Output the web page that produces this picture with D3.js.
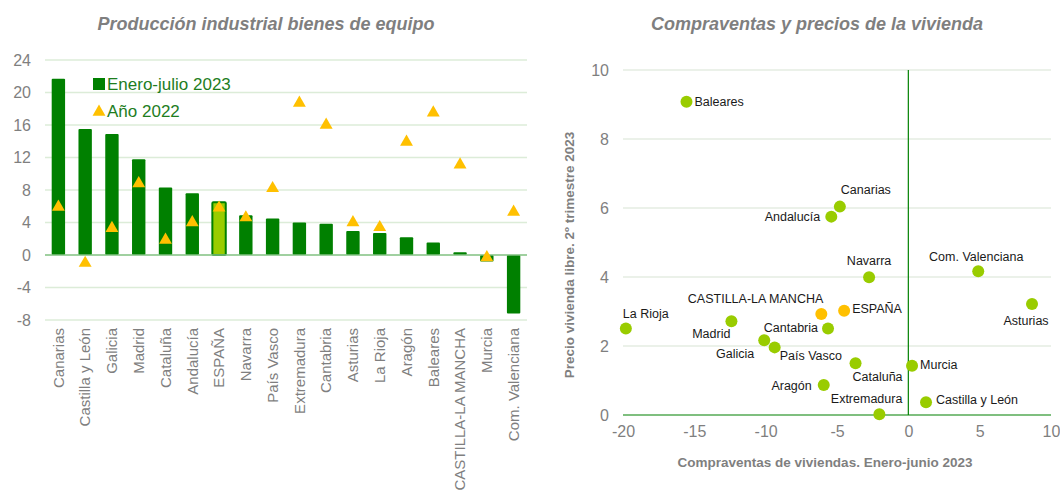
<!DOCTYPE html>
<html>
<head>
<meta charset="utf-8">
<script src="https://cdn.jsdelivr.net/npm/d3@7"></script>
<style>
  body { margin: 0; background: #fff; }
  svg { font-family: "Liberation Sans", Arial, sans-serif; }
  .title { font-size: 18px; font-weight: bold; font-style: italic; fill: #7f7f7f; }
  .tick text { fill: #7f7f7f; }
  .ptlabel { font-size: 12.5px; fill: #1a1a1a; }
  .axtitle { font-size: 13.5px; font-weight: bold; fill: #7f7f7f; }
</style>
</head>
<body>
<div id="chart"></div>
<script>
// left chart data: industrial production of capital goods
var regiones = ["Canarias", "Castilla y León", "Galicia", "Madrid", "Cataluña", "Andalucía",
  "ESPAÑA", "Navarra", "País Vasco", "Extremadura", "Cantabria", "Asturias", "La Rioja",
  "Aragón", "Baleares", "CASTILLA-LA MANCHA", "Murcia", "Com. Valenciana"];
var enero_julio_2023 = [21.7, 15.5, 14.9, 11.8, 8.3, 7.6, 6.5, 4.9, 4.5, 4.0, 3.85, 2.95, 2.7,
  2.2, 1.55, 0.35, -0.8, -7.2];
var anio_2022 = [5.9, -1.0, 3.3, 8.8, 1.85, 4.0, 5.8, 4.6, 8.2, 18.7, 16.0, 4.0, 3.4,
  13.9, 17.5, 11.1, -0.3, 5.3];
var yTicksLeft = [-8, -4, 0, 4, 8, 12, 16, 20, 24];

// right chart data: home sales (x) vs free housing price (y)
var puntos = ["Baleares", "Canarias", "Andalucía", "Navarra", "Com. Valenciana", "Asturias",
  "La Rioja", "CASTILLA-LA MANCHA", "ESPAÑA", "Madrid", "Cantabria", "Galicia", "País Vasco",
  "Cataluña", "Aragón", "Extremadura", "Murcia", "Castilla y León"];
var compraventas = [-15.55, -4.8, -5.4, -2.75, 4.9, 8.67, -19.8, -6.1, -4.5, -12.4, -5.63,
  -10.1, -9.37, -3.7, -5.93, -2.03, 0.26, 1.24];
var precios = [9.08, 6.04, 5.75, 3.99, 4.17, 3.22, 2.51, 2.93, 3.02, 2.72, 2.51,
  2.17, 1.96, 1.5, 0.87, 0.02, 1.43, 0.37];
var xTicksRight = [-20, -15, -10, -5, 0, 5, 10];
var yTicksRight = [0, 2, 4, 6, 8, 10];

// where each label sits relative to its point [dx, dy, anchor]
var labelPos = {
  "Baleares": [8, 4, "start"],
  "Canarias": [1, -13, "start"],
  "Andalucía": [-11, 4, "end"],
  "Navarra": [0, -12, "middle"],
  "Com. Valenciana": [-2, -10, "middle"],
  "Asturias": [-6, 21, "middle"],
  "La Rioja": [-3, -10, "start"],
  "CASTILLA-LA MANCHA": [2, -11, "end"],
  "ESPAÑA": [8, 2, "start"],
  "Madrid": [-1, 17, "end"],
  "Cantabria": [-10, 4, "end"],
  "Galicia": [-10, 18, "end"],
  "País Vasco": [5, 13, "start"],
  "Cataluña": [-3, 18, "start"],
  "Aragón": [-12, 5, "end"],
  "Extremadura": [23, -11, "end"],
  "Murcia": [8, 3, "start"],
  "Castilla y León": [10, 2, "start"]
};

// plain hyphen for negatives, like the original
var plain = function(d) { return String(d); };

var svg = d3.select("#chart").append("svg")
    .attr("width", 1060)
    .attr("height", 495);

// ---------- left chart ----------
var x = d3.scaleBand()
    .domain(regiones)
    .range([45, 527])
    .paddingInner(0.5)
    .paddingOuter(0.25);
var y = d3.scaleLinear().domain([-8, 24]).range([320, 60]);

svg.append("text")
    .attr("class", "title")
    .attr("x", 266).attr("y", 30)
    .attr("text-anchor", "middle")
    .text("Producción industrial bienes de equipo");

// gridlines
svg.append("g").selectAll("line")
    .data(yTicksLeft.filter(function(d) { return d !== 0; }))
  .enter().append("line")
    .attr("x1", 45).attr("x2", 527)
    .attr("y1", function(d) { return y(d); })
    .attr("y2", function(d) { return y(d); })
    .attr("stroke", "#dcecd8")
    .attr("stroke-width", 1.3);

// y axis
var yAxisL = svg.append("g")
    .attr("transform", "translate(45,0)")
    .call(d3.axisLeft(y).tickValues(yTicksLeft).tickFormat(plain).tickSize(0).tickPadding(14));
yAxisL.select(".domain").remove();
yAxisL.selectAll("text").style("font-size", "16px");

// bars
svg.append("g").selectAll("rect")
    .data(enero_julio_2023)
  .enter().append("rect")
    .attr("x", function(d, i) { return x(regiones[i]); })
    .attr("width", x.bandwidth())
    .attr("y", function(d) { return y(Math.max(0, d)); })
    .attr("height", function(d) { return Math.abs(y(d) - y(0)); })
    .attr("rx", 1)
    .attr("fill", function(d, i) { return regiones[i] === "ESPAÑA" ? "#99cc00" : "#008000"; })
    .attr("stroke", function(d, i) { return regiones[i] === "ESPAÑA" ? "#008000" : "none"; })
    .attr("stroke-width", 2);

// zero line
svg.append("line")
    .attr("x1", 45).attr("x2", 527)
    .attr("y1", y(0)).attr("y2", y(0))
    .attr("stroke", "#80c080")
    .attr("stroke-width", 1.5);

// triangles
var tri = d3.symbol().type(d3.symbolTriangle).size(72);
svg.append("g").selectAll("path")
    .data(anio_2022)
  .enter().append("path")
    .attr("d", tri)
    .attr("transform", function(d, i) {
      return "translate(" + (x(regiones[i]) + x.bandwidth() / 2) + "," + y(d) + ")";
    })
    .attr("fill", "#ffc000");

// x labels rotated
var xAxisL = svg.append("g")
    .attr("transform", "translate(0,326)")
    .call(d3.axisBottom(x).tickSize(0).tickPadding(0));
xAxisL.select(".domain").remove();
xAxisL.selectAll("text")
    .style("font-size", "15px")
    .attr("text-anchor", "end")
    .attr("dy", "0.35em")
    .attr("transform", "rotate(-90)")
    .attr("x", -2).attr("y", 0);

// legend
var legend = svg.append("g");
legend.append("rect")
    .attr("x", 93).attr("y", 78).attr("width", 12).attr("height", 12)
    .attr("fill", "#008000");
legend.append("text")
    .attr("x", 107).attr("y", 90)
    .style("font-size", "17px").attr("fill", "#1e7d1e")
    .text("Enero-julio 2023");
legend.append("path")
    .attr("d", tri)
    .attr("transform", "translate(99,112)")
    .attr("fill", "#ffc000");
legend.append("text")
    .attr("x", 107).attr("y", 117)
    .style("font-size", "17px").attr("fill", "#1e7d1e")
    .text("Año 2022");

// ---------- right chart ----------
var x2 = d3.scaleLinear().domain([-20, 10]).range([623, 1051]);
var y2 = d3.scaleLinear().domain([0, 10]).range([415, 70]);

svg.append("text")
    .attr("class", "title")
    .attr("x", 817).attr("y", 30)
    .attr("text-anchor", "middle")
    .text("Compraventas y precios de la vivienda");

svg.append("g").selectAll("line")
    .data(yTicksRight.filter(function(d) { return d !== 0; }))
  .enter().append("line")
    .attr("x1", 623).attr("x2", 1051)
    .attr("y1", function(d) { return y2(d); })
    .attr("y2", function(d) { return y2(d); })
    .attr("stroke", "#e4ede2")
    .attr("stroke-width", 1.3);

var yAxisR = svg.append("g")
    .attr("transform", "translate(623,0)")
    .call(d3.axisLeft(y2).tickValues(yTicksRight).tickFormat(plain).tickSize(0).tickPadding(14));
yAxisR.select(".domain").remove();
yAxisR.selectAll("text").style("font-size", "16px");

var xAxisR = svg.append("g")
    .attr("transform", "translate(0,415)")
    .call(d3.axisBottom(x2).tickValues(xTicksRight).tickFormat(plain).tickSize(0).tickPadding(11));
xAxisR.select(".domain").remove();
xAxisR.selectAll("text").style("font-size", "16px");

// axes through origin
svg.append("line")
    .attr("x1", 623).attr("x2", 1051)
    .attr("y1", y2(0)).attr("y2", y2(0))
    .attr("stroke", "#008000").attr("stroke-width", 1.2);
svg.append("line")
    .attr("x1", x2(0)).attr("x2", x2(0))
    .attr("y1", y2(10)).attr("y2", y2(0))
    .attr("stroke", "#008000").attr("stroke-width", 1.2);

// axis titles
svg.append("text")
    .attr("class", "axtitle")
    .attr("x", 825).attr("y", 467)
    .attr("text-anchor", "middle")
    .text("Compraventas de viviendas. Enero-junio 2023");
svg.append("text")
    .attr("class", "axtitle")
    .attr("transform", "translate(574,255) rotate(-90)")
    .attr("text-anchor", "middle")
    .text("Precio vivienda libre. 2º trimestre 2023");

// points
var pts = svg.append("g");
pts.selectAll("circle")
    .data(puntos)
  .enter().append("circle")
    .attr("cx", function(d, i) { return x2(compraventas[i]); })
    .attr("cy", function(d, i) { return y2(precios[i]); })
    .attr("r", 6)
    .attr("fill", function(d) {
      return (d === "ESPAÑA" || d === "CASTILLA-LA MANCHA") ? "#ffc000" : "#99cc00";
    });

pts.selectAll("text")
    .data(puntos)
  .enter().append("text")
    .attr("class", "ptlabel")
    .attr("x", function(d, i) { return x2(compraventas[i]) + labelPos[d][0]; })
    .attr("y", function(d, i) { return y2(precios[i]) + labelPos[d][1]; })
    .attr("text-anchor", function(d) { return labelPos[d][2]; })
    .text(function(d) { return d; });
</script>
</body>
</html>
